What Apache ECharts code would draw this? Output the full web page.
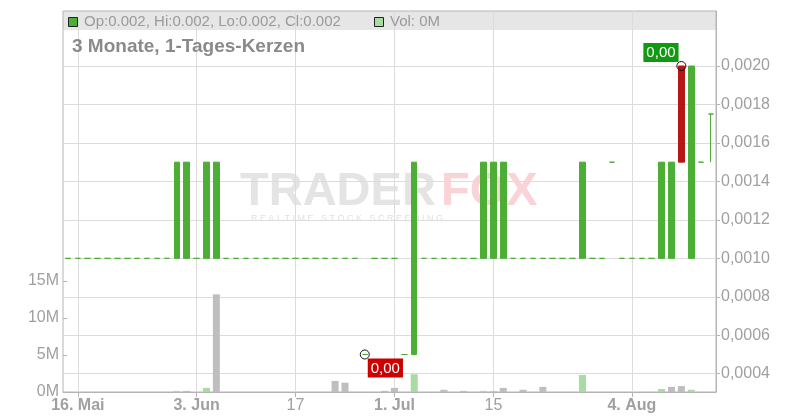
<!DOCTYPE html>
<html><head><meta charset="utf-8">
<script src="https://cdn.jsdelivr.net/npm/echarts@6/dist/echarts.min.js"></script>
<style>html,body{margin:0;padding:0;background:#fff}#c{width:800px;height:420px}</style>
</head><body><div id="c"></div>
<script>
// ---- data ----
const dates = [
 '2025-05-15','2025-05-16','2025-05-19','2025-05-20','2025-05-21','2025-05-22','2025-05-23','2025-05-26','2025-05-27','2025-05-28',
 '2025-05-29','2025-05-30','2025-06-02','2025-06-03','2025-06-04','2025-06-05','2025-06-06','2025-06-09','2025-06-10','2025-06-11',
 '2025-06-12','2025-06-13','2025-06-16','2025-06-17','2025-06-18','2025-06-19','2025-06-20','2025-06-23','2025-06-24','2025-06-25',
 '2025-06-26','2025-06-27','2025-06-30','2025-07-01','2025-07-02','2025-07-03','2025-07-04','2025-07-07','2025-07-08','2025-07-09',
 '2025-07-10','2025-07-11','2025-07-14','2025-07-15','2025-07-16','2025-07-17','2025-07-18','2025-07-21','2025-07-22','2025-07-23',
 '2025-07-24','2025-07-25','2025-07-28','2025-07-29','2025-07-30','2025-07-31','2025-08-01','2025-08-04','2025-08-05','2025-08-06',
 '2025-08-07','2025-08-08','2025-08-11','2025-08-12','2025-08-13','2025-08-14'
];
const tickLabels = {'2025-05-16':'16. Mai','2025-06-03':'3. Jun','2025-06-17':'17','2025-07-01':'1. Jul','2025-07-15':'15','2025-08-04':'4. Aug'};
const boldTicks = ['2025-05-16','2025-06-03','2025-07-01','2025-08-04'];
const open = [
 0.001,0.001,0.001,0.001,0.001,0.001,0.001,0.001,0.001,0.001,
 0.001,0.001,0.001,0.001,0.001,0.001,0.001,0.001,0.001,0.001,
 0.001,0.001,0.001,0.001,0.001,0.001,0.001,0.001,0.001,0.001,
 0.0005,0.001,0.001,0.001,0.0005,0.0005,0.001,0.001,0.001,0.001,
 0.001,0.001,0.001,0.001,0.001,0.001,0.001,0.001,0.001,0.001,
 0.001,0.001,0.001,0.001,0.001,0.0015,0.001,0.001,0.001,0.001,
 0.001,0.001,0.002,0.001,0.0015,0.00175
];
const close = [
 0.001,0.001,0.001,0.001,0.001,0.001,0.001,0.001,0.001,0.001,
 0.001,0.0015,0.0015,0.001,0.0015,0.0015,0.001,0.001,0.001,0.001,
 0.001,0.001,0.001,0.001,0.001,0.001,0.001,0.001,0.001,0.001,
 0.0005,0.001,0.001,0.001,0.0005,0.0015,0.001,0.001,0.001,0.001,
 0.001,0.001,0.0015,0.0015,0.0015,0.001,0.001,0.001,0.001,0.001,
 0.001,0.001,0.0015,0.001,0.001,0.0015,0.001,0.001,0.001,0.001,
 0.0015,0.0015,0.0015,0.002,0.0015,0.00175
];
const low = [
 0.001,0.001,0.001,0.001,0.001,0.001,0.001,0.001,0.001,0.001,
 0.001,0.001,0.001,0.001,0.001,0.001,0.001,0.001,0.001,0.001,
 0.001,0.001,0.001,0.001,0.001,0.001,0.001,0.001,0.001,0.001,
 0.0005,0.001,0.001,0.001,0.0005,0.0005,0.001,0.001,0.001,0.001,
 0.001,0.001,0.001,0.001,0.001,0.001,0.001,0.001,0.001,0.001,
 0.001,0.001,0.001,0.001,0.001,0.0015,0.001,0.001,0.001,0.001,
 0.001,0.001,0.0015,0.001,0.0015,0.0015
];
const high = [
 0.001,0.001,0.001,0.001,0.001,0.001,0.001,0.001,0.001,0.001,
 0.001,0.0015,0.0015,0.001,0.0015,0.0015,0.001,0.001,0.001,0.001,
 0.001,0.001,0.001,0.001,0.001,0.001,0.001,0.001,0.001,0.001,
 0.0005,0.001,0.001,0.001,0.0005,0.0015,0.001,0.001,0.001,0.001,
 0.001,0.001,0.0015,0.0015,0.0015,0.001,0.001,0.001,0.001,0.001,
 0.001,0.001,0.0015,0.001,0.001,0.0015,0.001,0.001,0.001,0.001,
 0.0015,0.0015,0.002,0.002,0.0015,0.00175
];
const volumeM = [
 0,0,0,0,0,0,0,0,0,0,
 0,0.15,0.15,0,0.55,13.2,0,0,0,0,
 0,0,0,0,0,0,0,1.5,1.25,0,
 0,0,0.15,0.55,0,2.4,0,0,0.3,0,
 0.15,0,0.15,0.1,0.55,0,0.3,0,0.7,0,
 0,0,2.3,0,0,0,0,0,0,0,
 0.4,0.7,0.8,0.3,0,0
];
const priceTicks = [0.0004,0.0006,0.0008,0.0010,0.0012,0.0014,0.0016,0.0018,0.0020];
const volTicks = [0,5,10,15];
const highMark = {date:'2025-08-11', value:0.002, label:'0,00'};
const lowMark = {date:'2025-06-26', value:0.0005, label:'0,00'};
const headerText = 'Op:0.002, Hi:0.002, Lo:0.002, Cl:0.002';
const volText = 'Vol: 0M';
const titleText = '3 Monate, 1-Tages-Kerzen';

// ---- styles ----
const GREEN = '#4cae34', RED = '#b51717', VGREEN = '#a9dba3', VGRAY = '#bebebe';
const FONT = '"Liberation Sans", Arial, sans-serif';
const LBL = '#a0a0a0', GRID = '#dcdcdc', AXIS = '#b4b4b4';

const candleData = dates.map((d, i) => {
  const item = {value: [open[i], close[i], low[i], high[i]]};
  if (close[i] < open[i]) item.itemStyle = {color0: RED, borderColor0: RED};
  return item;
});
const volData = volumeM.map((v, i) => ({
  value: v,
  itemStyle: {color: (i > 0 && close[i] > close[i - 1]) ? VGREEN : VGRAY}
}));
const isTick = (idx, val) => tickLabels[val] !== undefined;

const chart = echarts.init(document.getElementById('c'), null, {renderer: 'canvas'});
chart.setOption({
  animation: false,
  textStyle: {fontFamily: FONT},
  grid: [
    {left: 63, right: 84, top: 11, bottom: 28, show: true, borderColor: AXIS, borderWidth: 1, backgroundColor: 'transparent'},
    {left: 63, right: 84, top: 281, bottom: 28}
  ],
  xAxis: [
    {type: 'category', gridIndex: 0, data: dates, boundaryGap: true,
     axisLine: {show: true, lineStyle: {color: AXIS}},
     axisTick: {show: true, alignWithLabel: true, interval: isTick, length: 5, lineStyle: {color: AXIS}},
     axisLabel: {interval: isTick, margin: 6, color: LBL, fontSize: 16, fontFamily: FONT,
       formatter: v => boldTicks.includes(v) ? '{b|' + tickLabels[v] + '}' : (tickLabels[v] || ''),
       rich: {b: {fontWeight: 'bold', fontSize: 16, color: LBL, fontFamily: FONT}}},
     splitLine: {show: true, interval: isTick, alignWithLabel: true, lineStyle: {color: GRID}}},
    {type: 'category', gridIndex: 1, data: dates, boundaryGap: true, show: false}
  ],
  yAxis: [
    {type: 'value', gridIndex: 0, position: 'right', min: 0.000305, max: 0.002286, scale: true,
     axisLine: {show: true, lineStyle: {color: AXIS}},
     axisTick: {show: true, length: 4, customValues: priceTicks, lineStyle: {color: AXIS}},
     axisLabel: {customValues: priceTicks, margin: 5, color: LBL, fontSize: 16, fontFamily: FONT,
       formatter: v => v.toFixed(4).replace('.', ',')},
     splitLine: {show: true, lineStyle: {color: GRID}}},
    {type: 'value', gridIndex: 1, position: 'left', min: 0, max: 15, interval: 5,
     axisLine: {show: false},
     axisTick: {show: true, inside: true, length: 4, lineStyle: {color: AXIS}},
     axisLabel: {margin: 4, color: LBL, fontSize: 16, fontFamily: FONT, formatter: v => v + 'M'},
     splitLine: {show: false}}
  ],
  series: [
    {type: 'bar', xAxisIndex: 1, yAxisIndex: 1, data: volData, barWidth: 7, z: 1},
    {type: 'candlestick', xAxisIndex: 0, yAxisIndex: 0, data: candleData, barWidth: 6, z: 3,
     itemStyle: {color: GREEN, color0: GREEN, borderColor: GREEN, borderColor0: GREEN, borderWidth: 1},
     markPoint: {
       symbol: 'circle', symbolSize: 9, silent: true,
       itemStyle: {color: 'rgba(255,255,255,0)', borderColor: '#111', borderWidth: 1},
       data: [
         {coord: [highMark.date, highMark.value],
          label: {show: true, formatter: highMark.label, position: [-33, -18], align: 'left', verticalAlign: 'top',
                  backgroundColor: '#119911', color: '#fff', fontSize: 15, fontFamily: FONT, padding: [2, 3, 1, 3], lineHeight: 16}},
         {coord: [lowMark.date, lowMark.value],
          label: {show: true, formatter: lowMark.label, position: [8, 9], align: 'left', verticalAlign: 'top',
                  backgroundColor: '#cc0000', color: '#fff', fontSize: 15, fontFamily: FONT, padding: [2, 3, 1, 3], lineHeight: 16}}
       ]
     }}
  ],
  graphic: [
    {type: 'rect', z: -1, silent: true, shape: {x: 63, y: 11, width: 653, height: 19}, style: {fill: '#e6e6e6'}},
    {type: 'rect', z: 5, shape: {x: 68.5, y: 17.5, width: 9, height: 9}, style: {fill: GREEN, stroke: '#222', lineWidth: 1}},
    {type: 'text', z: 5, x: 84, y: 21.5, style: {text: headerText, fill: '#9a9a9a', fontSize: 15, fontFamily: FONT, verticalAlign: 'middle'}},
    {type: 'rect', z: 5, shape: {x: 374.5, y: 17.5, width: 9, height: 9}, style: {fill: VGREEN, stroke: '#222', lineWidth: 1}},
    {type: 'text', z: 5, x: 390, y: 21.5, style: {text: volText, fill: '#9a9a9a', fontSize: 15, fontFamily: FONT, verticalAlign: 'middle'}},
    {type: 'text', z: 5, x: 72, y: 47, style: {text: titleText, fill: '#8a8a8a', fontSize: 19, fontWeight: 'bold', fontFamily: FONT, verticalAlign: 'middle'}},
    {type: 'text', z: -1, silent: true, x: 240, y: 192, style: {text: 'TRADER', fill: '#e4e4e4', fontSize: 47, fontWeight: 'bold', fontFamily: FONT, verticalAlign: 'middle'}},
    {type: 'text', z: -1, silent: true, x: 441, y: 192, style: {text: 'FOX', fill: '#f9d3d6', fontSize: 47, fontWeight: 'bold', fontFamily: FONT, verticalAlign: 'middle'}},
    {type: 'text', z: -1, silent: true, x: 251, y: 219, style: {text: 'R E A L T I M E   S T O C K   S C R E E N I N G', fill: '#e0e0e0', fontSize: 9, fontFamily: FONT, verticalAlign: 'middle'}}
  ]
});
</script>
</body></html>
